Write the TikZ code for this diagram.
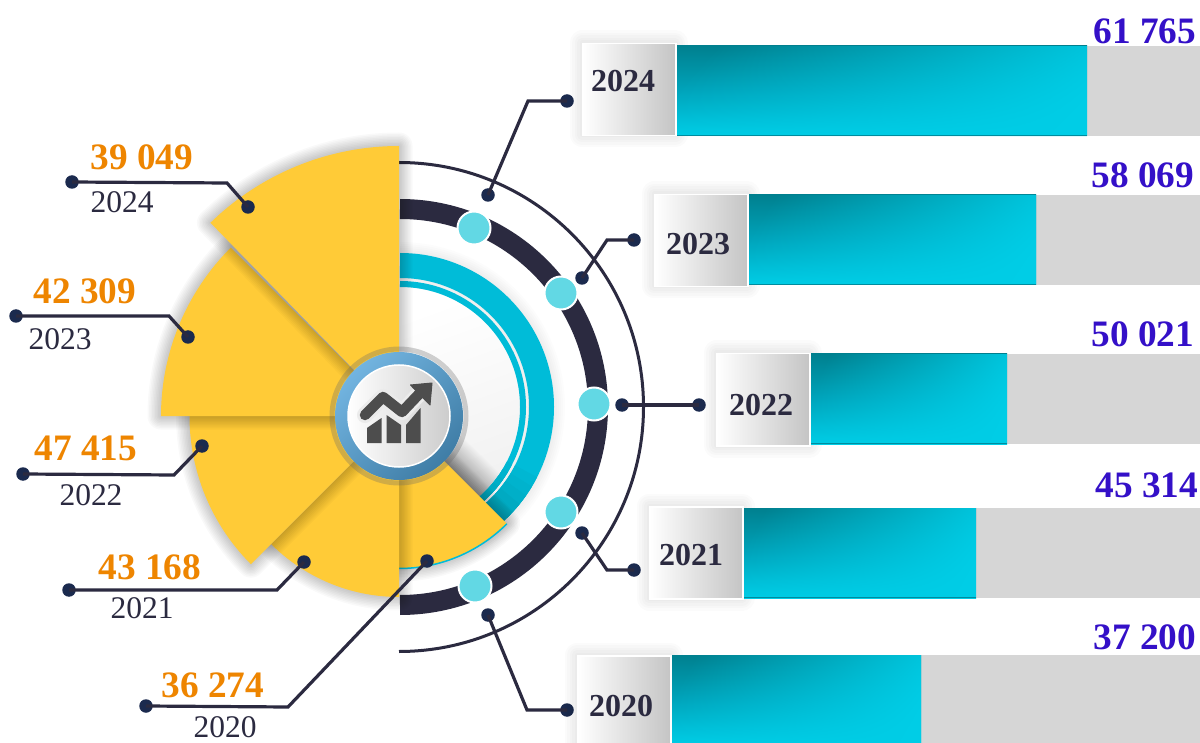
\documentclass[tikz,border=0pt]{standalone}
\usepackage{fontspec}
\setmainfont{Liberation Serif}
\usetikzlibrary{fadings}
\definecolor{ink}{HTML}{2B2A40}
\definecolor{dotc}{HTML}{1B2A4E}
\definecolor{sun}{HTML}{FFCB37}
\definecolor{amber}{HTML}{EE8500}
\definecolor{royal}{HTML}{3410C8}
\definecolor{teal}{HTML}{00BCD8}
\definecolor{tealhi}{HTML}{00CDE6}
\definecolor{tealdk}{HTML}{00808F}
\definecolor{aqua}{HTML}{62D8E4}
\definecolor{track}{HTML}{D6D6D6}
\definecolor{glyph}{HTML}{4D4D4D}
\definecolor{bluelt}{HTML}{72B4E0}
\definecolor{bluedk}{HTML}{3F7DA6}
\tikzfading[name=barfade,left color=transparent!100,middle color=transparent!85,right color=transparent!0]
\tikzset{
  conn/.style={ink,line width=3.2pt,line join=miter},
  dot/.style={circle,fill=dotc,inner sep=0pt,minimum size=13.5pt},
  bead/.style={circle,fill=aqua,draw=white,line width=2pt,inner sep=0pt,minimum size=33pt},
  valueleft/.style={text=amber,font=\bfseries\fontsize{37.3}{37}\selectfont,inner sep=0pt},
  valueright/.style={text=royal,font=\bfseries\fontsize{37.3}{37}\selectfont,inner sep=0pt},
  yearleft/.style={text=ink,font=\fontsize{31.5}{32}\selectfont,inner sep=0pt},
  yearbox/.style={text=ink,font=\bfseries\fontsize{32}{32}\selectfont,inner sep=0pt},
  labelbox/.style={anchor=north west,draw=white,line width=1.5pt,left color=white,right color=black!23,
    minimum width=93pt,minimum height=92pt,inner sep=0pt},
}
\newcommand{\mysector}[4]{%
  \foreach \w in {3,6,...,27}{\draw[black,opacity=.024,line width=\w pt,line join=round]
     (C) -- ++(#1:#3) arc[start angle=#1,end angle=#2,radius=#3] -- cycle;}
  \fill[sun] (C) -- ++(#1:#3) arc[start angle=#1,end angle=#2,radius=#3] -- cycle;
}
% #1 name #2 year #3 box left #4 box top #5 bar left #6 teal end #7 bar top #8 text x #9 text y
\newcommand{\mybar}[9]{%
  \foreach \w in {5,10,...,25}{\draw[black,opacity=.016,line width=\w pt,line join=round]
     (#3,#4) rectangle ++(93,92);}
  \fill[track] (#6,#7) rectangle (1200,#7+90);
  \fill[top color=tealdk,bottom color=tealhi,middle color=teal!60!tealdk] (#5,#7) rectangle (#6,#7+90);
  \fill[tealhi,path fading=barfade,fading angle=-12] (#5,#7) rectangle (#6,#7+90);
  \draw[tealdk!80!teal,line width=1pt] (#5,#7+89.5) -- (#6,#7+89.5);
  \node[labelbox] (#1) at (#3,#4) {};
  \node[yearbox] (#1t) at (#8,#9) {#2};
}
\begin{document}
\begin{tikzpicture}[x=1pt,y=1pt,yscale=-1]
\path[clip] (0,0) rectangle (1200,743);
\fill[white] (0,0) rectangle (1200,743);
\coordinate (R) at (400,407);
\coordinate (Ro) at (399,407);
\coordinate (C) at (399,416);

% teal rings and inner disc
\foreach \w in {27,31,...,47}{\draw[black,opacity=.012,line width=\w pt] (R) ++(-90:141.5) arc[start angle=-90,end angle=60,radius=141.5];}
\fill[white] (R) ++(-90:120) arc[start angle=-90,end angle=90,radius=120] -- cycle;
\shade[left color=white,right color=black!6,shading angle=20] (R) ++(-90:120) arc[start angle=-90,end angle=90,radius=120] -- cycle;
\begin{scope}
  \clip (R) circle[radius=120];
  \foreach \w in {2,4,...,60}{\draw[black,opacity=.012,line width=\w pt] (C) -- (507,523);}
\end{scope}
\draw[teal,line width=25pt] (R) ++(-90:141.5) arc[start angle=-90,end angle=60,radius=141.5];
\draw[teal,line width=6pt] (R) ++(-90:123) arc[start angle=-90,end angle=60,radius=123];
\foreach \a/\m in {27/92,31/85,35/78,39/70,43/62}{
  \draw[teal!\m!tealdk,line width=25pt] (R) ++(\a:141.5) arc[start angle=\a,end angle=60,radius=141.5];
  \draw[teal!\m!tealdk,line width=6pt] (R) ++(\a:123) arc[start angle=\a,end angle=60,radius=123];
}

% dark rings
\draw[ink,line width=20pt] (R) ++(-90:198) arc[start angle=-90,end angle=90,radius=198];
\draw[ink,line width=3pt] (Ro) ++(-90:244.5) arc[start angle=-90,end angle=90,radius=244.5];
\node[bead] (b24) at (474,228) {};
\node[bead] (b23) at (561,293) {};
\node[bead] (b22) at (594,404) {};
\node[bead] (b21) at (561,512) {};
\node[bead] (b20) at (475,586) {};

% yellow sectors, lowest first
\mysector{90}{45}{152}{a}
\draw[teal,line width=1.5pt] (C) ++(90:152.5) arc[start angle=90,end angle=45,radius=152.5];
\mysector{135}{90}{181}{b}
\mysector{180}{135}{209.5}{c}
\mysector{-135}{-180}{238}{d}
\mysector{-90}{-134.3}{270}{e}

% central badge
\draw[black!60,opacity=.3,line width=5pt] (C) circle[radius=67];
\shade[left color=bluelt,middle color=bluelt,right color=bluedk,shading angle=45] (C) circle[radius=64];
\fill[left color=white,right color=black!20,draw=white,line width=1.5pt] (C) circle[radius=51];
\fill[glyph] (367,443) -- (367,428) -- (381.5,418) -- (381.5,443) -- cycle;
\fill[glyph] (386.5,443) -- (386.5,415) -- (401,425) -- (401,443) -- cycle;
\fill[glyph] (406,443) -- (406,425) -- (420.5,408) -- (420.5,443) -- cycle;
\draw[black!8,line width=16pt,line join=round] (383,397) -- (402,412) -- (422,391);
\draw[black!8,line width=16pt,line cap=round] (365,415) -- (383,397);
\draw[glyph,line width=10.5pt,line join=round,line cap=round] (365,415) -- (383,397) -- (402,412) -- (421,392);
\fill[glyph,draw=glyph,line width=1pt,line join=round] (410.5,385) -- (432,383) -- (430,405) -- cycle;

% connectors on the left
\node[dot] (la24) at (72,182) {};  \coordinate (lb24) at (227,183); \node[dot] (lc24) at (248,207) {};
\node[dot] (la23) at (16,316) {};  \coordinate (lb23) at (169,316); \node[dot] (lc23) at (188,337) {};
\node[dot] (la22) at (23,474) {};  \coordinate (lb22) at (174,475); \node[dot] (lc22) at (202,446) {};
\node[dot] (la21) at (69,590) {};  \coordinate (lb21) at (277,590); \node[dot] (lc21) at (304,562) {};
\node[dot] (la20) at (146,706) {}; \coordinate (lb20) at (288,707); \node[dot] (lc20) at (427,561) {};
\foreach \y in {24,23,22,21,20}{\draw[conn] (la\y.center) -- (lb\y) -- (lc\y.center);}

% connectors on the right
\node[dot] (ra24) at (488,195) {}; \coordinate (rb24) at (528,101); \node[dot] (rc24) at (567,101) {};
\node[dot] (ra23) at (582,278) {}; \coordinate (rb23) at (607,240); \node[dot] (rc23) at (634,240) {};
\node[dot] (ra22) at (622,405) {}; \coordinate (rb22) at (660,405); \node[dot] (rc22) at (699,405) {};
\node[dot] (ra21) at (582,533) {}; \coordinate (rb21) at (607,570); \node[dot] (rc21) at (634,570) {};
\node[dot] (ra20) at (488,615) {}; \coordinate (rb20) at (527,710); \node[dot] (rc20) at (567,710) {};
\foreach \y in {24,23,22,21,20}{\draw[conn] (ra\y.center) -- (rb\y) -- (rc\y.center);}

% left labels
\node[valueleft] (v24) at (142,157) {39 049}; \node[yearleft] (y24) at (122,202) {2024};
\node[valueleft] (v23) at (85,291)  {42 309}; \node[yearleft] (y23) at (60,339)  {2023};
\node[valueleft] (v22) at (86,448)  {47 415}; \node[yearleft] (y22) at (91,495)  {2022};
\node[valueleft] (v21) at (150,567) {43 168}; \node[yearleft] (y21) at (142,608) {2021};
\node[valueleft] (v20) at (213,685) {36 274}; \node[yearleft] (y20) at (225,727) {2020};

% bars
\mybar{s24}{2024}{582}{43}{677}{1087}{46}{623}{81}
\mybar{s23}{2023}{654}{194}{748}{1036}{195}{698}{244}
\mybar{s22}{2022}{716}{353}{810}{1007}{354}{761}{405}
\mybar{s21}{2021}{649}{506}{743}{976}{508}{691}{555}
\mybar{s20}{2020}{577}{655}{672}{921}{655}{621}{706}
\node[valueright] (w24) at (1145,31)  {61 765};
\node[valueright] (w23) at (1143,175) {58 069};
\node[valueright] (w22) at (1143,334) {50 021};
\node[valueright] (w21) at (1147,485) {45 314};
\node[valueright] (w20) at (1145,637) {37 200};
\end{tikzpicture}
\end{document}
